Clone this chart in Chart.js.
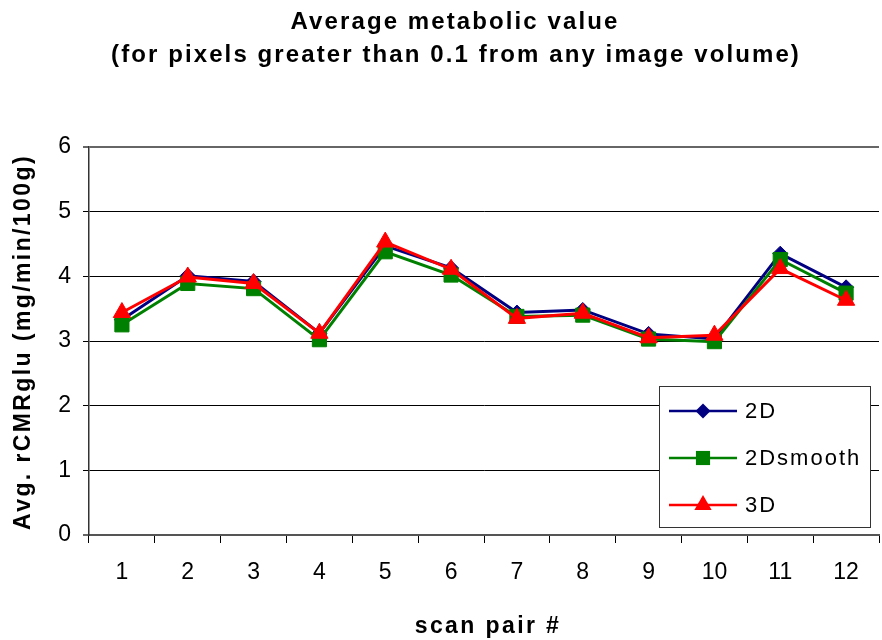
<!DOCTYPE html>
<html>
<head>
<meta charset="utf-8">
<title>Average metabolic value</title>
<script src="https://cdn.jsdelivr.net/npm/chart.js@4/dist/chart.umd.min.js"></script>
<style>
  html, body { margin: 0; padding: 0; background: #fff; overflow: hidden; }
  #wrap { width: 890px; height: 640px; }
</style>
</head>
<body>
<div id="wrap"><canvas id="metaChart" width="890" height="640"></canvas></div>
<script>
// ====== data ======
const scanPairs = ['1', '2', '3', '4', '5', '6', '7', '8', '9', '10', '11', '12'];
const val2D = [3.33, 4.01, 3.92, 3.12, 4.47, 4.13, 3.44, 3.48, 3.11, 3.03, 4.35, 3.83];
const val2Dsmooth = [3.25, 3.89, 3.81, 3.02, 4.38, 4.02, 3.38, 3.40, 3.03, 2.99, 4.26, 3.74];
const val3D = [3.44, 3.99, 3.89, 3.12, 4.53, 4.11, 3.35, 3.43, 3.05, 3.09, 4.12, 3.63];
const yTicks = [0, 1, 2, 3, 4, 5, 6];

const titleLines = ['Average metabolic value', '(for pixels greater than 0.1 from any image volume)'];
const xTitle = 'scan pair #';
const yTitle = 'Avg. rCMRglu (mg/min/100g)';

const FONT = '"Liberation Sans", Arial, sans-serif';

// ====== titles + legend box drawn on top ======
const textPlugin = {
  id: 'textPlugin',
  afterDraw(chart) {
    const ctx = chart.ctx;
    const area = chart.chartArea;
    ctx.save();
    ctx.fillStyle = '#000';
    ctx.textAlign = 'center';
    ctx.textBaseline = 'middle';
    ctx.font = 'bold 24px ' + FONT;
    ctx.letterSpacing = '2.1px';
    ctx.fillText(titleLines[0], 455, 22);
    ctx.fillText(titleLines[1], 456, 55);

    ctx.font = 'bold 23px ' + FONT;
    ctx.letterSpacing = '2.4px';
    ctx.fillText(xTitle, (area.left + area.right) / 2 + 4, 627);
    ctx.save();
    ctx.translate(24, (area.top + area.bottom) / 2 + 1);
    ctx.rotate(-Math.PI / 2);
    ctx.fillText(yTitle, 0, 0);
    ctx.restore();

    // legend
    ctx.letterSpacing = '0px';
    ctx.fillStyle = '#fff';
    ctx.fillRect(659, 386, 211, 141);
    ctx.strokeStyle = '#333';
    ctx.lineWidth = 1;
    ctx.strokeRect(659.5, 386.5, 211, 141);

    const rows = [411, 458, 505];
    chart.data.datasets.forEach((ds, i) => {
      const y = rows[i];
      ctx.strokeStyle = ds.borderColor;
      ctx.lineWidth = 2.5;
      ctx.beginPath();
      ctx.moveTo(669, y);
      ctx.lineTo(737, y);
      ctx.stroke();
      drawMarker(ctx, ds.pointStyle, ds.legendRadius, ds.borderColor, 703, y);
      ctx.fillStyle = '#000';
      ctx.textAlign = 'left';
      ctx.font = '22px ' + FONT;
      ctx.letterSpacing = '2px';
      ctx.fillText(ds.label, 745, y + 1);
    });
    ctx.restore();
  }
};

function drawMarker(ctx, style, r, color, x, y) {
  ctx.fillStyle = color;
  ctx.beginPath();
  if (style === 'rectRot') {
    ctx.moveTo(x, y - r); ctx.lineTo(x + r, y); ctx.lineTo(x, y + r); ctx.lineTo(x - r, y);
  } else if (style === 'rect') {
    const s = r * Math.SQRT1_2;
    ctx.rect(x - s, y - s, 2 * s, 2 * s);
  } else {
    ctx.moveTo(x, y - r);
    ctx.lineTo(x + r * Math.sin(2 * Math.PI / 3), y - r * Math.cos(2 * Math.PI / 3));
    ctx.lineTo(x + r * Math.sin(4 * Math.PI / 3), y - r * Math.cos(4 * Math.PI / 3));
  }
  ctx.closePath();
  ctx.fill();
}

const mkSet = (label, data, color, style, radius, order) => ({
  label, data, order,
  legendRadius: radius,
  borderColor: color,
  backgroundColor: color,
  pointBackgroundColor: color,
  pointBorderColor: color,
  pointBorderWidth: 1,
  pointStyle: style,
  pointRadius: radius,
  pointHoverRadius: radius,
  borderWidth: 3,
  tension: 0,
  fill: false,
});

new Chart(document.getElementById('metaChart'), {
  type: 'line',
  data: {
    labels: scanPairs,
    datasets: [
      mkSet('2D', val2D, '#000080', 'rectRot', 7.5, 2),
      mkSet('2Dsmooth', val2Dsmooth, '#008000', 'rect', 10, 1),
      mkSet('3D', val3D, '#ff0000', 'triangle', 10, 0),
    ],
  },
  options: {
    responsive: false,
    devicePixelRatio: 1,
    animation: false,
    layout: { padding: { top: 147, right: 3, left: 0, bottom: 0 } },
    plugins: {
      legend: { display: false },
      title: { display: false },
      tooltip: { enabled: false },
    },
    scales: {
      x: {
        offset: true,
        afterFit: (scale) => { scale.height = 105; },
        grid: {
          offset: true,
          drawOnChartArea: false,
          drawTicks: true,
          tickLength: 8,
          color: '#000',
        },
        border: { display: true, color: '#555', width: 2 },
        ticks: {
          color: '#000',
          font: { family: FONT, size: 23 },
          padding: 16,
          maxRotation: 0,
          autoSkip: false,
        },
      },
      y: {
        min: 0,
        max: 6,
        afterFit: (scale) => { scale.width = 89; },
        afterBuildTicks: (scale) => { scale.ticks = yTicks.map((v) => ({ value: v })); },
        grid: {
          color: (c) => (c.tick && (c.tick.value === 6 || c.tick.value === 0) ? '#666' : '#000'),
          lineWidth: (c) => (c.tick && (c.tick.value === 6 || c.tick.value === 0) ? 2 : 1),
          drawTicks: true,
          tickLength: 6,
        },
        border: { display: true, color: '#333', width: 1.5 },
        ticks: {
          color: '#000',
          font: { family: FONT, size: 23 },
          padding: 12,
        },
      },
    },
  },
  plugins: [textPlugin],
});
</script>
</body>
</html>
